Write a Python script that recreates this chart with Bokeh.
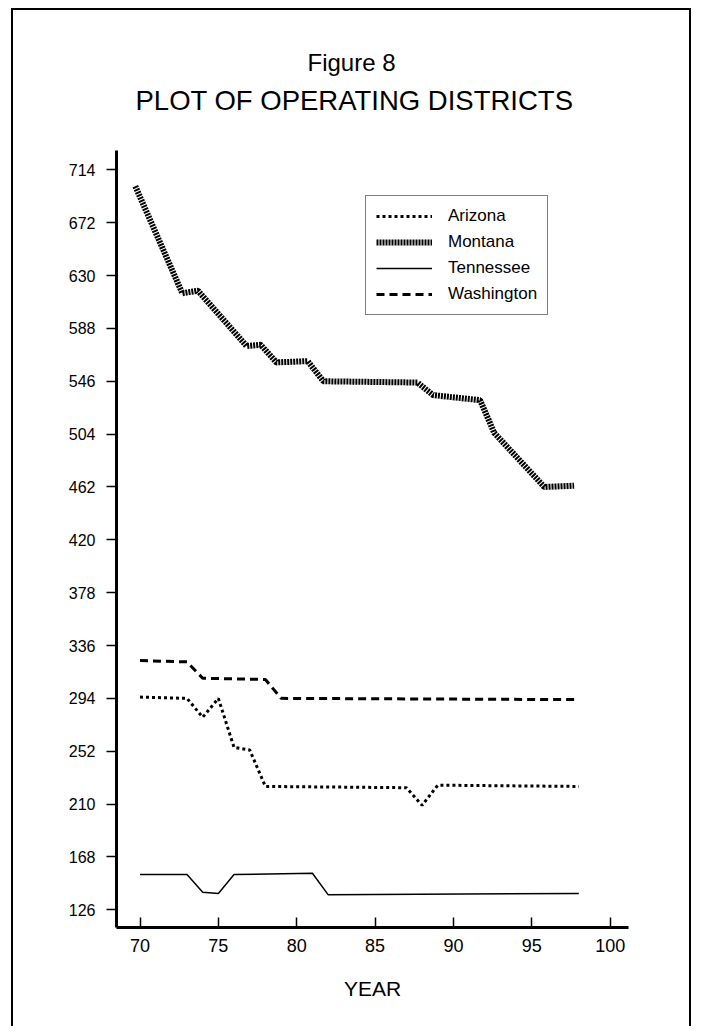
from bokeh.plotting import figure
from bokeh.models import Range1d, FixedTicker, Legend, LegendItem, Title
from bokeh.embed import file_html
from bokeh.resources import INLINE

# ---- data ----
X_TICKS = [70, 75, 80, 85, 90, 95, 100]
Y_TICKS = [126, 168, 210, 252, 294, 336, 378, 420, 462, 504, 546, 588, 630, 672, 714]

arizona_year = [70, 73, 74, 75, 76, 77, 78, 87, 88, 89, 98]
arizona_val = [295, 294, 279, 294, 255, 253, 224, 223, 209, 225, 224]

montana_year = [69.7, 72.7, 73.7, 76.8, 77.7, 78.7, 80.7, 81.7, 87.7, 88.7, 91.7, 92.6, 95.8, 97.7]
montana_val = [701, 616, 618, 574, 575, 561, 562, 546, 545, 535, 531, 505, 462, 463]

tennessee_year = [70, 73, 74, 75, 76, 81, 82, 98]
tennessee_val = [154, 154, 140, 139, 154, 155, 138, 139]

washington_year = [70, 73, 74, 78, 79, 98]
washington_val = [324, 323, 310, 309, 294, 293]

FONT = "Liberation Sans"

p = figure(width=680, height=1018,
           x_range=Range1d(68.5, 101.17), y_range=Range1d(111.9, 729.4),
           output_backend="svg", toolbar_location=None,
           min_border_left=103, min_border_right=65,
           min_border_top=140, min_border_bottom=101)
p.styles = {"border-top": "2px solid black", "border-left": "2px solid black",
            "border-right": "2px solid black", "margin-left": "11px",
            "margin-top": "8px", "box-sizing": "border-box"}
p.xgrid.visible = False
p.ygrid.visible = False
p.outline_line_color = None
p.background_fill_color = "white"
p.border_fill_color = "white"

for ax in (p.xaxis[0], p.yaxis[0]):
    ax.axis_line_width = 3
    ax.axis_line_color = "black"
    ax.major_tick_line_width = 1.5
    ax.major_tick_line_color = "black"
    ax.minor_tick_line_color = None
    ax.major_label_text_font = FONT
    ax.major_label_text_color = "black"

p.xaxis.major_label_text_font_size = "18px"
p.yaxis.major_label_text_font_size = "16px"
p.xaxis.ticker = FixedTicker(ticks=X_TICKS)
p.yaxis.ticker = FixedTicker(ticks=Y_TICKS)
p.xaxis.major_tick_in = 10
p.xaxis.major_tick_out = 0
p.yaxis.major_tick_in = 0
p.yaxis.major_tick_out = 10
p.xaxis.major_label_standoff = 11
p.yaxis.major_label_standoff = 11
p.xaxis.axis_label = "YEAR"
p.xaxis.axis_label_text_font = FONT
p.xaxis.axis_label_text_font_size = "21px"
p.xaxis.axis_label_text_font_style = "normal"
p.xaxis.axis_label_text_color = "black"
p.xaxis.axis_label_standoff = 22

r_az = p.line(arizona_year, arizona_val, line_color="black", line_width=3, line_dash="3 3")
r_mt = p.line(montana_year, montana_val, line_color="black", line_width=6, line_dash="2 1")
r_tn = p.line(tennessee_year, tennessee_val, line_color="black", line_width=1.5)
r_wa = p.line(washington_year, washington_val, line_color="black", line_width=3, line_dash="8 5")

legend = Legend(items=[LegendItem(label="Arizona", renderers=[r_az]),
                       LegendItem(label="Montana", renderers=[r_mt]),
                       LegendItem(label="Tennessee", renderers=[r_tn]),
                       LegendItem(label="Washington", renderers=[r_wa])],
                location=(249, 612))
legend.border_line_color = "black"
legend.border_line_width = 1.5
legend.background_fill_color = "white"
legend.background_fill_alpha = 1
legend.label_text_font = FONT
legend.label_text_font_size = "17px"
legend.label_text_color = "black"
legend.glyph_width = 56
legend.glyph_height = 20
legend.label_height = 20
legend.label_standoff = 16
legend.padding = 10
legend.spacing = 6
p.add_layout(legend)

# titles stack upward from the frame: spacer, main title, figure number
t_space = Title(text=" ", text_font=FONT, text_font_size="10px", standoff=19)
t_main = Title(text="PLOT OF OPERATING DISTRICTS", align="left", offset=19,
               text_font=FONT, text_font_size="27.5px", text_font_style="normal",
               text_color="black", standoff=6)
t_fig = Title(text="Figure 8", align="left", offset=191,
              text_font=FONT, text_font_size="24px", text_font_style="normal",
              text_color="black", standoff=8)
p.add_layout(t_space, "above")
p.add_layout(t_main, "above")
p.add_layout(t_fig, "above")

open("out.html", "w").write(file_html(p, INLINE))
